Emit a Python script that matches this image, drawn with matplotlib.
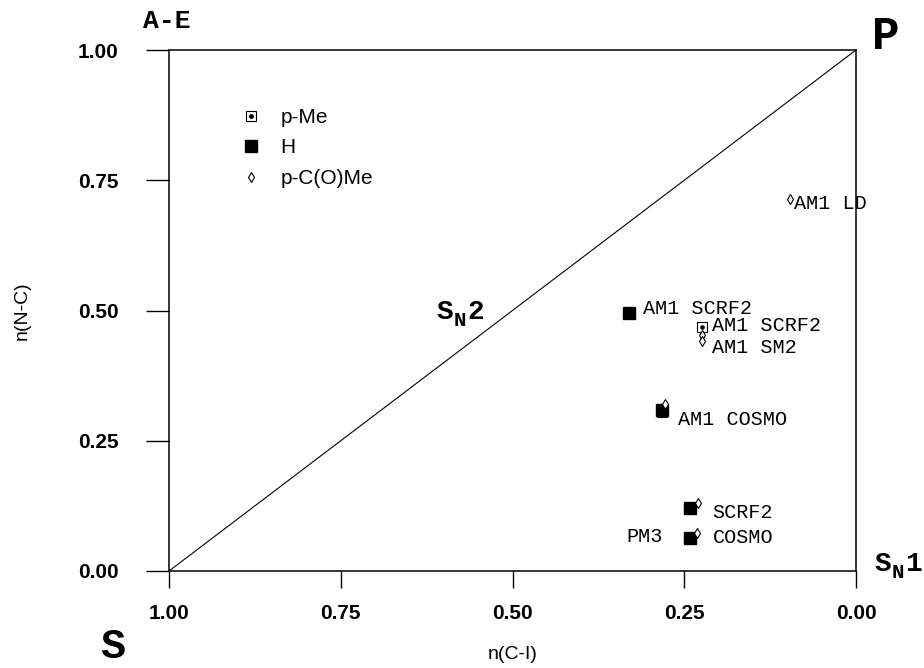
import matplotlib
matplotlib.use("Agg")
import matplotlib.pyplot as plt
from matplotlib.lines import Line2D
from matplotlib.legend_handler import HandlerTuple

W, H = 924, 668
MONO = "Liberation Mono"
SANS = "Liberation Sans"

# bond orders: x = n(C-I), y = n(N-C)
h_x = [0.330, 0.282, 0.242, 0.242]
h_y = [0.495, 0.309, 0.121, 0.063]

me_x = [0.224, 0.282]
me_y = [0.468, 0.305]

co_x = [0.224, 0.224, 0.278, 0.230, 0.231, 0.096]
co_y = [0.453, 0.441, 0.320, 0.131, 0.073, 0.714]

ticks = [1.0, 0.75, 0.5, 0.25, 0.0]
tick_labels = ["1.00", "0.75", "0.50", "0.25", "0.00"]

# (text, series, index, dx, dy, ha) - offsets in points from the marker
point_labels = [
    ("AM1 SCRF2", "h", 0, 10, 3.5, "left"),
    ("AM1 SCRF2", "me", 0, 7, 1.5, "left"),
    ("AM1 SM2", "co", 1, 7, -4.5, "left"),
    ("AM1 COSMO", "h", 1, 11.5, -7, "left"),
    ("SCRF2", "h", 2, 16.5, -3, "left"),
    ("COSMO", "h", 3, 16.5, 0.5, "left"),
    ("PM3", "h", 3, -19.5, 1, "right"),
    ("AM1 LD", "co", 5, 3, -3, "left"),
]


def px(x, y):
    return x / W, 1 - y / H


fig = plt.figure(figsize=(W / 100, H / 100), dpi=100)
ax = fig.add_axes([169 / W, 1 - 571 / H, (856 - 169) / W, (571 - 50) / H])
ax.set_xlim(1.0, 0.0)
ax.set_ylim(0.0, 1.0)

# S -> P diagonal
ax.plot([1.0, 0.0], [0.0, 1.0], color="black", lw=0.8, zorder=1)

ax.plot(me_x, me_y, ls="none", marker="s", ms=6.5, mfc="white", mec="black", mew=0.8, zorder=3)
ax.plot(me_x, me_y, ls="none", marker="o", ms=2.3, color="black", zorder=3)
ax.plot(h_x, h_y, ls="none", marker="s", ms=8, color="black", zorder=4)
ax.plot(co_x, co_y, ls="none", marker="d", ms=5.5, mfc="white", mec="black", mew=0.8, zorder=5)

series = {"h": (h_x, h_y), "me": (me_x, me_y), "co": (co_x, co_y)}
for text, key, i, dx, dy, ha in point_labels:
    xs, ys = series[key]
    ax.annotate(text, (xs[i], ys[i]), xytext=(dx, dy), textcoords="offset points",
                ha=ha, va="center", fontsize=14.5, family=MONO, zorder=6)

# legend
m_me = Line2D([], [], ls="none", marker="s", ms=7, mfc="white", mec="black", mew=0.8)
m_dot = Line2D([], [], ls="none", marker="o", ms=2.5, color="black")
m_h = Line2D([], [], ls="none", marker="s", ms=8, color="black")
m_co = Line2D([], [], ls="none", marker="d", ms=5, mfc="white", mec="black", mew=0.8)
leg = ax.legend([(m_me, m_dot), m_h, m_co], ["p-Me", "H", "p-C(O)Me"],
                handler_map={tuple: HandlerTuple(ndivide=1, pad=0)},
                loc="upper left", bbox_to_anchor=px(241, 108), bbox_transform=fig.transFigure,
                frameon=False, borderpad=0, borderaxespad=0, handlelength=1.0,
                handletextpad=0.9, labelspacing=0.55, prop={"family": SANS, "size": 15})

for s in ax.spines.values():
    s.set_linewidth(1.1)

ax.set_xticks(ticks)
ax.set_xticklabels(tick_labels)
ax.set_yticks(ticks)
ax.set_yticklabels(tick_labels)
ax.tick_params(axis="x", direction="out", length=12, width=1.0, pad=12)
ax.tick_params(axis="y", direction="out", length=16.5, width=1.0, pad=20)
for lab in ax.get_xticklabels() + ax.get_yticklabels():
    lab.set_family(SANS)
    lab.set_fontsize(15)
    lab.set_fontweight("bold")

ax.set_xlabel("n(C-I)", family=SANS, fontsize=14, labelpad=16)
ax.set_ylabel("n(N-C)", family=SANS, fontsize=14, labelpad=34)

# corner labels
fig.text(*px(143, 21), "A-E", family=MONO, weight="bold", fontsize=19, ha="left", va="center")
fig.text(*px(886, 37), "P", family=MONO, weight="bold", fontsize=33, ha="center", va="center")
fig.text(*px(113, 667), "S", family=MONO, weight="bold", fontsize=30, ha="center", va="bottom")


def sn_label(x0, yc, digit):
    fig.text(*px(x0, yc), "S", family=MONO, weight="bold", fontsize=20, ha="left", va="center")
    fig.text(*px(x0 + 17, yc + 8), "N", family=MONO, weight="bold", fontsize=15, ha="left", va="center")
    fig.text(*px(x0 + 30, yc), digit, family=MONO, weight="bold", fontsize=20, ha="left", va="center")


sn_label(437, 312, "2")
sn_label(875, 564, "1")

fig.savefig("out.png", dpi=100)
